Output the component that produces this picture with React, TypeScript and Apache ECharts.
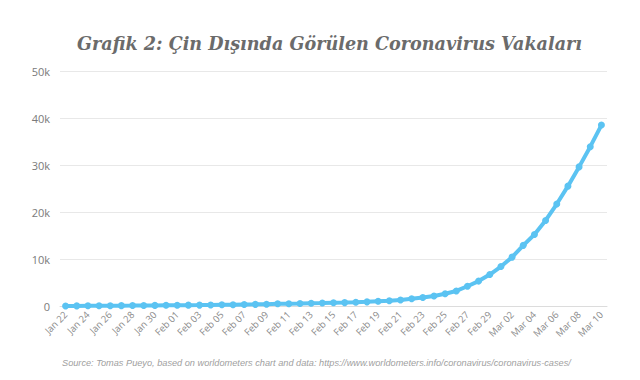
import React, { useEffect, useRef } from "react";
import * as echarts from "echarts";

const categories: string[] = [
  "Jan 22", "Jan 23", "Jan 24", "Jan 25", "Jan 26", "Jan 27", "Jan 28", "Jan 29", "Jan 30", "Jan 31",
  "Feb 01", "Feb 02", "Feb 03", "Feb 04", "Feb 05", "Feb 06", "Feb 07", "Feb 08", "Feb 09", "Feb 10",
  "Feb 11", "Feb 12", "Feb 13", "Feb 14", "Feb 15", "Feb 16", "Feb 17", "Feb 18", "Feb 19", "Feb 20",
  "Feb 21", "Feb 22", "Feb 23", "Feb 24", "Feb 25", "Feb 26", "Feb 27", "Feb 28", "Feb 29",
  "Mar 01", "Mar 02", "Mar 03", "Mar 04", "Mar 05", "Mar 06", "Mar 07", "Mar 08", "Mar 09", "Mar 10",
];

const cases: number[] = [
  10, 20, 35, 50, 60, 75, 90, 110, 130, 150,
  170, 180, 190, 220, 250, 280, 330, 350, 380, 460,
  480, 520, 580, 630, 690, 720, 790, 880, 1000, 1100,
  1290, 1530, 1810, 2140, 2600, 3200, 4200, 5300, 6700,
  8400, 10400, 12900, 15200, 18200, 21700, 25500, 29600, 33900, 38500,
];

const yTicks: number[] = [0, 10000, 20000, 30000, 40000, 50000];

const titleText = "Grafik 2: Çin Dışında Görülen Coronavirus Vakaları";
const sourceText =
  "Source: Tomas Pueyo, based on worldometers chart and data: https://www.worldometers.info/coronavirus/coronavirus-cases/";

export default function App() {
  const ref = useRef<HTMLDivElement>(null);
  useEffect(() => {
    document.body.style.margin = "0";
    if (!ref.current) return;
    const chart = echarts.init(ref.current, undefined, { renderer: "svg" });
    chart.setOption({
      animation: false,
      backgroundColor: "#ffffff",
      title: {
        text: titleText,
        left: 72,
        top: 29,
        textStyle: {
          fontFamily: "DejaVu Serif",
          fontStyle: "italic",
          fontWeight: "bold",
          fontSize: 17.6,
          color: "#6b6b6b",
        },
      },
      graphic: [
        {
          type: "text",
          left: 62,
          top: 358,
          style: {
            text: sourceText,
            fontFamily: "Liberation Sans",
            fontStyle: "italic",
            fontSize: 9.2,
            fill: "#a0a0a0",
          },
        },
      ],
      grid: { left: 60, right: 33, top: 71, bottom: 74 },
      xAxis: {
        type: "category",
        data: categories,
        boundaryGap: true,
        axisLine: { show: true, lineStyle: { color: "#dcdcdc" } },
        axisTick: { show: false },
        axisLabel: {
          interval: 1,
          rotate: 45,
          fontSize: 9.5,
          color: "#8a8a8a",
          fontFamily: "Open Sans",
          margin: 7,
        },
      },
      yAxis: {
        type: "value",
        min: 0,
        max: 50000,
        interval: 10000,
        axisLine: { show: false },
        axisTick: { show: false },
        splitLine: { lineStyle: { color: "#e8e8e8" } },
        axisLabel: {
          color: "#7a7a7a",
          fontSize: 11,
          fontFamily: "Open Sans",
          margin: 10,
          formatter: (v: number) => (yTicks.includes(v) && v !== 0 ? v / 1000 + "k" : "0"),
        },
      },
      series: [
        {
          type: "line",
          data: cases,
          symbol: "circle",
          symbolSize: 7,
          lineStyle: { color: "#5bc3f2", width: 4 },
          itemStyle: { color: "#5bc3f2" },
        },
      ],
    });
    return () => chart.dispose();
  }, []);
  return <div ref={ref} style={{ width: 640, height: 380 }} />;
}
